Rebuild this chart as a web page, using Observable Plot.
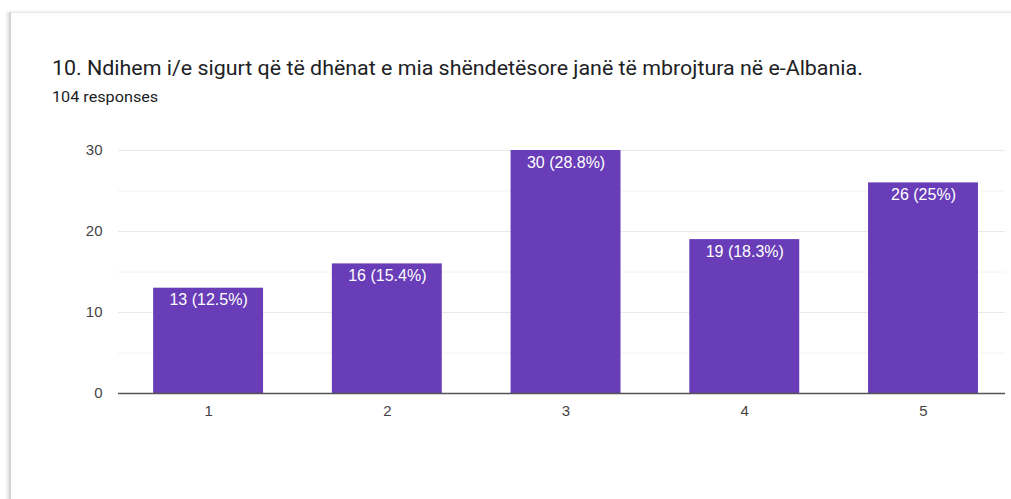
<!DOCTYPE html>
<html>
<head>
<meta charset="utf-8">
<script src="https://cdn.jsdelivr.net/npm/d3@7"></script>
<script src="https://cdn.jsdelivr.net/npm/@observablehq/plot@0.6"></script>
<style>
  html, body { margin: 0; padding: 0; background: #fff; }
  body { width: 1011px; height: 499px; overflow: hidden; position: relative; }
  #card { position: absolute; left: 9px; top: 12px; width: 1100px; height: 600px;
          border-top: 1px solid #e6e6e6; border-left: 2px solid #d4d4d4;
          box-shadow: -2px 0 3px rgba(0,0,0,0.12); }
  #title { position: absolute; left: 52px; top: 58px; font-family: Roboto, sans-serif;
           font-size: 20px; line-height: 1; color: #202124; white-space: nowrap;
           transform: scaleX(1.07); transform-origin: 0 0; }
  #subtitle { position: absolute; left: 52px; top: 90px; font-family: Roboto, sans-serif;
              font-size: 15px; line-height: 1; color: #202124; white-space: nowrap;
              transform: scaleX(1.08); transform-origin: 0 0; }
  #chart { position: absolute; left: 0; top: 0; }
  #chart svg { overflow: visible; }
</style>
</head>
<body>
<div id="card"></div>
<div id="title">10. Ndihem i/e sigurt që të dhënat e mia shëndetësore janë të mbrojtura në e-Albania.</div>
<div id="subtitle">104 responses</div>
<div id="chart"></div>
<script>
const categories = ["1", "2", "3", "4", "5"];
const counts = [13, 16, 30, 19, 26];
const labels = ["13 (12.5%)", "16 (15.4%)", "30 (28.8%)", "19 (18.3%)", "26 (25%)"];
const yTicks = [0, 10, 20, 30];
const minorGrid = [5, 15, 25];
const majorGrid = [10, 20, 30];

const data = categories.map((c, i) => ({cat: c, n: counts[i], label: labels[i]}));

const chart = Plot.plot({
  width: 1011,
  height: 499,
  marginLeft: 118,
  marginRight: 6,
  marginTop: 150,
  marginBottom: 106,
  style: {fontFamily: "'Liberation Sans', Arial, sans-serif", fontSize: "15px", color: "#444", background: "transparent"},
  x: {domain: categories, paddingInner: 0.385, paddingOuter: 0.174, align: 0.565, round: false, label: null, tickSize: 0, tickPadding: 12},
  y: {domain: [0, 30], ticks: yTicks, label: null, tickSize: 0, tickPadding: 16},
  marks: [
    Plot.ruleY(minorGrid, {stroke: "#f2f2f2", strokeWidth: 1}),
    Plot.ruleY(majorGrid, {stroke: "#e9e9e9", strokeWidth: 1}),
    Plot.barY(data, {x: "cat", y: "n", fill: "#683db7"}),
    Plot.text(data, {x: "cat", y: "n", text: "label", fill: "#ffffff", fontSize: 16, dy: 12}),
    Plot.ruleY([0], {stroke: "#555", strokeWidth: 1.5})
  ]
});
document.getElementById("chart").appendChild(chart);
</script>
</body>
</html>
